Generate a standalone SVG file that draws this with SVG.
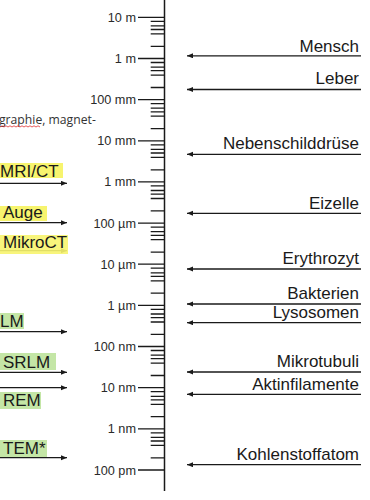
<svg xmlns="http://www.w3.org/2000/svg" width="370" height="500" viewBox="0 0 370 500">
<defs>
<marker id="ah" markerUnits="userSpaceOnUse" markerWidth="7" markerHeight="6" refX="6" refY="2.5" orient="auto">
<path d="M0,0 L6,2.5 L0,5 z" fill="#1a1a1a"/>
</marker>
<style>
.sc{font-family:"Liberation Sans",Arial,sans-serif;font-size:12.7px;fill:#2a2a2a;text-anchor:end}
.lb{font-family:"Liberation Sans",Arial,sans-serif;font-size:17px;fill:#1a1a1a}
.rt{text-anchor:end}
.ar{stroke:#1a1a1a;stroke-width:1.3;marker-end:url(#ah)}
.tk{stroke:#1a1a1a;stroke-width:1.3;fill:none}
.yl{fill:#f7f46e}
.gr{fill:#c4e6a6}
</style>
</defs>
<rect width="370" height="500" fill="#fff"/>
<g id="scale">
<line x1="164.5" y1="0" x2="164.5" y2="491" stroke="#1a1a1a" stroke-width="1.5"/>
<path class="tk" d="M138,17.3H165M138,58.5H165M138,99.6H165M138,140.8H165M138,181.9H165M138,223.1H165M138,264.2H165M138,305.4H165M138,346.5H165M138,387.7H165M138,428.8H165M138,470H165"/>
<path class="tk" d="M150.7,21.3H165M150.7,25.9H165M150.7,29.5H165M150.7,33.9H165M150.7,46.3H165
M150.7,62.5H165M150.7,67.1H165M150.7,70.7H165M150.7,75.1H165M150.7,87.5H165
M150.7,103.6H165M150.7,108.2H165M150.7,111.8H165M150.7,116.2H165M150.7,128.6H165
M150.7,144.8H165M150.7,149.4H165M150.7,153H165M150.7,157.4H165M150.7,169.8H165
M150.7,185.9H165M150.7,190.5H165M150.7,194.1H165M150.7,198.5H165M150.7,210.9H165
M150.7,227.1H165M150.7,231.7H165M150.7,235.3H165M150.7,239.7H165M150.7,252.1H165
M150.7,268.2H165M150.7,272.8H165M150.7,276.4H165M150.7,280.8H165M150.7,293.2H165
M150.7,309.4H165M150.7,314H165M150.7,317.6H165M150.7,322H165M150.7,334.4H165
M150.7,350.5H165M150.7,355.1H165M150.7,358.7H165M150.7,363.1H165M150.7,375.5H165
M150.7,391.7H165M150.7,396.3H165M150.7,399.9H165M150.7,404.3H165M150.7,416.7H165
M150.7,432.8H165M150.7,437.4H165M150.7,441H165M150.7,445.4H165M150.7,457.8H165"/>
<text class="sc" x="136" y="21.8">10 m</text>
<text class="sc" x="136" y="63">1 m</text>
<text class="sc" x="136" y="104.1">100 mm</text>
<text class="sc" x="136" y="145.3">10 mm</text>
<text class="sc" x="136" y="186.4">1 mm</text>
<text class="sc" x="136" y="227.6">100 µm</text>
<text class="sc" x="136" y="268.7">10 µm</text>
<text class="sc" x="136" y="309.9">1 µm</text>
<text class="sc" x="136" y="351">100 nm</text>
<text class="sc" x="136" y="392.2">10 nm</text>
<text class="sc" x="136" y="433.3">1 nm</text>
<text class="sc" x="136" y="474.5">100 pm</text>
</g>
<g id="note">
<text x="-1" y="124" style="font-family:'Open Sans',sans-serif;font-size:12.2px;fill:#333">graphie, magnet-</text>
<path d="M0,127 l2,-1.2 l2,1.2 l2,-1.2 l2,1.2 l2,-1.2 l2,1.2 l2,-1.2 l2,1.2 l2,-1.2 l2,1.2 l2,-1.2 l2,1.2 l2,-1.2 l2,1.2 l2,-1.2 l2,1.2 l2,-1.2 l2,1.2 l2,-1.2 l2,1.2" fill="none" stroke="#e03030" stroke-width="0.8"/>
</g>
<g id="connectors">
<line class="ar" x1="0" y1="183.3" x2="67" y2="183.3"/>
<line class="ar" x1="0" y1="222.7" x2="67" y2="222.7"/>
<line class="ar" x1="0" y1="250.7" x2="67" y2="250.7"/>
<line class="ar" x1="0" y1="331.7" x2="67" y2="331.7"/>
<line class="ar" x1="0" y1="372.3" x2="67" y2="372.3"/>
<line class="ar" x1="0" y1="387.7" x2="67" y2="387.7"/>
<line class="ar" x1="0" y1="457.7" x2="67" y2="457.7"/>
<line class="ar" x1="361" y1="55.8" x2="187" y2="55.8"/>
<line class="ar" x1="361" y1="89.5" x2="187" y2="89.5"/>
<line class="ar" x1="361" y1="154.3" x2="187" y2="154.3"/>
<line class="ar" x1="361" y1="213.3" x2="187" y2="213.3"/>
<line class="ar" x1="361" y1="269" x2="187" y2="269"/>
<line class="ar" x1="361" y1="304" x2="187" y2="304"/>
<line class="ar" x1="361" y1="322.7" x2="187" y2="322.7"/>
<line class="ar" x1="361" y1="372" x2="187" y2="372"/>
<line class="ar" x1="361" y1="394.3" x2="187" y2="394.3"/>
<line class="ar" x1="361" y1="464.7" x2="187" y2="464.7"/>
</g>
<g id="mri"><rect class="yl" x="0" y="163" width="63" height="15"/><text class="lb" x="0" y="176.5">MRI/CT</text></g>
<g id="auge"><rect class="yl" x="0" y="206" width="47" height="15"/><text class="lb" x="3" y="217.5">Auge</text></g>
<g id="mikroct"><rect class="yl" x="0" y="235" width="68" height="19" opacity="0.9"/><text class="lb" x="3" y="248">MikroCT</text></g>
<g id="lm"><rect class="gr" x="0" y="313" width="24" height="16"/><text class="lb" x="0" y="327">LM</text></g>
<g id="srlm"><rect class="gr" x="0" y="353" width="56" height="17"/><text class="lb" x="3" y="367.5">SRLM</text></g>
<g id="rem"><rect class="gr" x="0" y="392" width="41" height="17"/><text class="lb" x="3" y="405.5">REM</text></g>
<g id="tem"><rect class="gr" x="0" y="440" width="47" height="17"/><text class="lb" x="3" y="453.5">TEM*</text></g>
<g id="mensch"><text class="lb rt" x="359" y="51.7">Mensch</text></g>
<g id="leber"><text class="lb rt" x="359" y="84">Leber</text></g>
<g id="nebenschilddruese"><text class="lb rt" x="359" y="149">Nebenschilddrüse</text></g>
<g id="eizelle"><text class="lb rt" x="359" y="209">Eizelle</text></g>
<g id="erythrozyt"><text class="lb rt" x="359" y="264">Erythrozyt</text></g>
<g id="bakterien"><text class="lb rt" x="359" y="299">Bakterien</text></g>
<g id="lysosomen"><text class="lb rt" x="359" y="317.7">Lysosomen</text></g>
<g id="mikrotubuli"><text class="lb rt" x="359" y="367.3">Mikrotubuli</text></g>
<g id="aktinfilamente"><text class="lb rt" x="359" y="390">Aktinfilamente</text></g>
<g id="kohlenstoffatom"><text class="lb rt" x="359" y="460">Kohlenstoffatom</text></g>
</svg>
